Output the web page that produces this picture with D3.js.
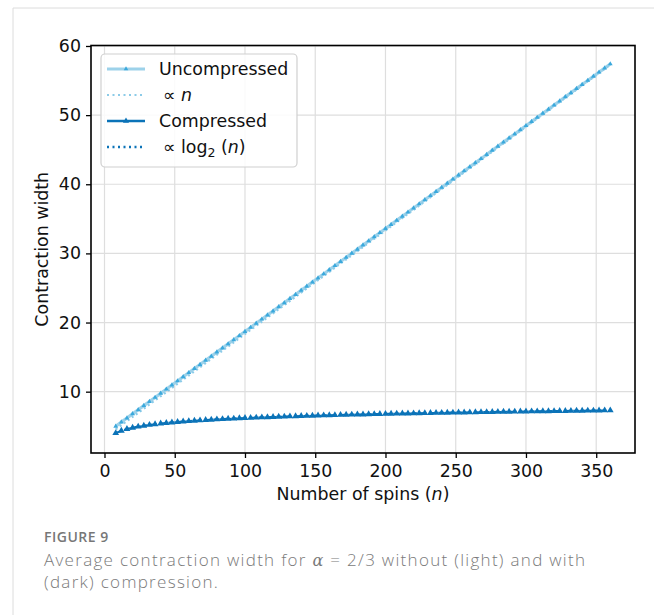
<!DOCTYPE html>
<html>
<head>
<meta charset="utf-8">
<script src="https://cdn.jsdelivr.net/npm/d3@7"></script>
<style>
  body { margin: 0; background: #fff; }
  svg text { font-family: "DejaVu Sans", sans-serif; }
</style>
</head>
<body>
<div class="canva"></div>
<script>
// spin counts (n) and average contraction widths
const spins = [8,12,16,20,24,28,32,36,40,44,48,52,56,60,64,68,72,76,80,84,88,92,96,100,
  104,108,112,116,120,124,128,132,136,140,144,148,152,156,160,164,168,172,176,180,184,188,
  192,196,200,204,208,212,216,220,224,228,232,236,240,244,248,252,256,260,264,268,272,276,
  280,284,288,292,296,300,304,308,312,316,320,324,328,332,336,340,344,348,352,356,360];

const uncompressed = [5.00,5.60,6.19,6.79,7.38,7.98,8.57,9.17,9.76,10.36,10.96,11.55,12.15,
  12.74,13.34,13.93,14.53,15.12,15.72,16.31,16.91,17.51,18.10,18.70,19.29,19.89,20.48,21.08,
  21.67,22.27,22.86,23.46,24.05,24.65,25.25,25.84,26.44,27.03,27.63,28.22,28.82,29.41,30.01,
  30.60,31.20,31.80,32.39,32.99,33.58,34.18,34.77,35.37,35.96,36.56,37.15,37.75,38.35,38.94,
  39.54,40.13,40.73,41.32,41.92,42.51,43.11,43.70,44.30,44.90,45.49,46.09,46.68,47.28,47.87,
  48.47,49.06,49.66,50.25,50.85,51.44,52.04,52.64,53.23,53.83,54.42,55.02,55.61,56.21,56.80,57.40];

const compressed = [4.00,4.35,4.60,4.79,4.95,5.08,5.20,5.30,5.39,5.48,5.55,5.62,5.68,5.74,
  5.80,5.85,5.90,5.95,5.99,6.04,6.08,6.11,6.15,6.19,6.22,6.25,6.28,6.31,6.34,6.37,6.40,6.43,
  6.45,6.48,6.50,6.53,6.55,6.57,6.59,6.61,6.64,6.66,6.68,6.70,6.71,6.73,6.75,6.77,6.79,6.80,
  6.82,6.84,6.85,6.87,6.88,6.90,6.91,6.93,6.94,6.96,6.97,6.99,7.00,7.01,7.03,7.04,7.05,7.07,
  7.08,7.09,7.10,7.11,7.13,7.14,7.15,7.16,7.17,7.18,7.19,7.20,7.21,7.23,7.24,7.25,7.26,7.27,
  7.28,7.29,7.30];

// fitted curves (dotted), read at a few spin counts
const fitLinN = [8, 360];
const fitLinVals = [4.55, 57.30];
const fitLogN = [8,10,12,16,20,24,32,40,48,64,80,96,128,160,192,256,300,360];
const fitLogVals = [3.95,4.15,4.31,4.56,4.75,4.91,5.16,5.35,5.51,5.76,5.95,6.11,6.36,6.55,6.71,6.96,7.09,7.25];

const xTicks = [0,50,100,150,200,250,300,350];
const yTicks = [10,20,30,40,50,60];

const lightLine = "#9dd2ea", lightMark = "#3aa8dc";
const dark = "#0b73b8";
const fs = "17.4px";

const width = 654, height = 615;
const svg = d3.select(".canva").append("svg")
  .attr("width", width)
  .attr("height", height);

// figure frame lines
svg.append("line").attr("x1", 13).attr("x2", 13).attr("y1", 8).attr("y2", height)
  .attr("stroke", "#dcdcdc").attr("stroke-width", 1);
svg.append("line").attr("x1", 13).attr("x2", width).attr("y1", 8).attr("y2", 8)
  .attr("stroke", "#dcdcdc").attr("stroke-width", 1);

const plot = {left: 91, right: 635, top: 45.5, bottom: 453};

const x = d3.scaleLinear().domain([-9.6, 377.6]).range([plot.left, plot.right]);
const y = d3.scaleLinear().domain([1.13, 60.07]).range([plot.bottom, plot.top]);

// grid
const grid = svg.append("g");
grid.selectAll(".gx").data(xTicks).enter().append("line")
  .attr("x1", d => x(d)).attr("x2", d => x(d))
  .attr("y1", plot.top).attr("y2", plot.bottom)
  .attr("stroke", "#dedede").attr("stroke-width", 1.2);
grid.selectAll(".gy").data(yTicks).enter().append("line")
  .attr("x1", plot.left).attr("x2", plot.right)
  .attr("y1", d => y(d)).attr("y2", d => y(d))
  .attr("stroke", "#dedede").attr("stroke-width", 1.2);

svg.append("clipPath").attr("id", "clip").append("rect")
  .attr("x", plot.left).attr("y", plot.top)
  .attr("width", plot.right - plot.left).attr("height", plot.bottom - plot.top);

const g = svg.append("g").attr("clip-path", "url(#clip)");

const line = d3.line().x(d => x(d[0])).y(d => y(d[1]));
const smooth = d3.line().x(d => x(d[0])).y(d => y(d[1])).curve(d3.curveMonotoneX);

const uncPts = spins.map((n, i) => [n, uncompressed[i]]);
const compPts = spins.map((n, i) => [n, compressed[i]]);

// uncompressed
g.append("path").datum(uncPts).attr("d", line)
  .attr("fill", "none").attr("stroke", lightLine).attr("stroke-width", 3.2);
g.append("path").datum(fitLinN.map((n, i) => [n, fitLinVals[i]])).attr("d", line)
  .attr("fill", "none").attr("stroke", "#8ccbe8").attr("stroke-width", 2.2)
  .attr("stroke-dasharray", "2,3");
const tri = d3.symbol().type(d3.symbolTriangle);
g.selectAll(".mu").data(uncPts).enter().append("path")
  .attr("d", tri.size(10)())
  .attr("transform", d => `translate(${x(d[0])},${y(d[1])})`)
  .attr("fill", lightMark);

// compressed
g.append("path").datum(compPts).attr("d", line)
  .attr("fill", "none").attr("stroke", dark).attr("stroke-width", 2)
  .attr("stroke-dasharray", "6,3");
g.append("path").datum(fitLogN.map((n, i) => [n, fitLogVals[i]])).attr("d", smooth)
  .attr("fill", "none").attr("stroke", dark).attr("stroke-width", 2.2)
  .attr("stroke-dasharray", "2,3");
g.selectAll(".mc").data(compPts).enter().append("path")
  .attr("d", tri.size(20)())
  .attr("transform", d => `translate(${x(d[0])},${y(d[1])})`)
  .attr("fill", dark);

// axes
const xAxis = d3.axisBottom(x).tickValues(xTicks).tickSize(5).tickPadding(4);
const yAxis = d3.axisLeft(y).tickValues(yTicks).tickSize(5).tickPadding(5);

const gx = svg.append("g").attr("transform", `translate(0,${plot.bottom})`).call(xAxis);
const gy = svg.append("g").attr("transform", `translate(${plot.left},0)`).call(yAxis);
[gx, gy].forEach(a => {
  a.select(".domain").remove();
  a.selectAll(".tick line").attr("stroke", "#000").attr("stroke-width", 1.3);
  a.selectAll(".tick text").attr("fill", "#111").style("font-size", fs)
    .style("font-family", "DejaVu Sans");
});
gx.selectAll(".tick text").attr("dy", "0.85em");

svg.append("rect")
  .attr("x", plot.left).attr("y", plot.top)
  .attr("width", plot.right - plot.left).attr("height", plot.bottom - plot.top)
  .attr("fill", "none").attr("stroke", "#000").attr("stroke-width", 1.6);

// axis labels
const xl = svg.append("text")
  .attr("x", (plot.left + plot.right) / 2).attr("y", 500)
  .attr("text-anchor", "middle").style("font-size", fs).attr("fill", "#111");
xl.append("tspan").text("Number of spins (");
xl.append("tspan").text("n").style("font-style", "italic");
xl.append("tspan").text(")");

svg.append("text")
  .attr("transform", `translate(48,${(plot.top + plot.bottom) / 2}) rotate(-90)`)
  .attr("text-anchor", "middle").style("font-size", fs).attr("fill", "#111")
  .text("Contraction width");

// legend
const legend = svg.append("g");
legend.append("rect")
  .attr("x", 101).attr("y", 54).attr("width", 196).attr("height", 113)
  .attr("rx", 4).attr("fill", "#fff").attr("fill-opacity", 0.85)
  .attr("stroke", "#d0d0d0").attr("stroke-width", 1.2);

const legendRows = [
  {y: 69, stroke: lightLine, w: 3.2, dash: null, mark: lightMark, ms: 9},
  {y: 95, stroke: "#8ccbe8", w: 2.2, dash: "2,3.5", mark: null},
  {y: 121, stroke: dark, w: 2.4, dash: null, mark: dark, ms: 16},
  {y: 147, stroke: dark, w: 2.4, dash: "2,3.5", mark: null}
];
legendRows.forEach(r => {
  legend.append("line").attr("x1", 107).attr("x2", 145).attr("y1", r.y).attr("y2", r.y)
    .attr("stroke", r.stroke).attr("stroke-width", r.w)
    .attr("stroke-dasharray", r.dash);
  if (r.mark) {
    legend.append("path").attr("d", d3.symbol().type(d3.symbolTriangle).size(r.ms)())
      .attr("transform", `translate(126,${r.y})`).attr("fill", r.mark);
  }
});
const lt = (yy) => legend.append("text").attr("x", 159).attr("y", yy)
  .style("font-size", fs).attr("fill", "#111");
lt(75).text("Uncompressed");
const t2 = lt(101).attr("x", 163);
t2.append("tspan").text("\u221D ");
t2.append("tspan").text("n").style("font-style", "italic");
lt(127).text("Compressed");
const t4 = lt(153).attr("x", 163);
t4.append("tspan").text("\u221D log");
t4.append("tspan").text("2").style("font-size", "12.5px").attr("dy", 4);
t4.append("tspan").text(" (").attr("dy", -4);
t4.append("tspan").text("n").style("font-style", "italic");
t4.append("tspan").text(")");

// caption
svg.append("text").attr("x", 44).attr("y", 542)
  .style("font-family", "'Open Sans', sans-serif").style("font-weight", 600)
  .style("font-size", "14px").style("letter-spacing", "0.5px")
  .attr("fill", "#777").text("FIGURE 9");
const capStyle = sel => sel
  .style("font-family", "'Open Sans', sans-serif").style("font-size", "17px")
  .style("letter-spacing", "1.3px").style("font-weight", 300).attr("fill", "#7a7a7a");
const cap1 = svg.append("text").attr("x", 44).attr("y", 566).call(capStyle);
cap1.append("tspan").text("Average contraction width for ");
cap1.append("tspan").text("\u03B1").style("font-family", "'DejaVu Serif', serif")
  .style("font-style", "italic").style("font-size", "16px");
cap1.append("tspan").text(" = 2/3 without (light) and with");
svg.append("text").attr("x", 44).attr("y", 588).call(capStyle)
  .text("(dark) compression.");
</script>
</body>
</html>
